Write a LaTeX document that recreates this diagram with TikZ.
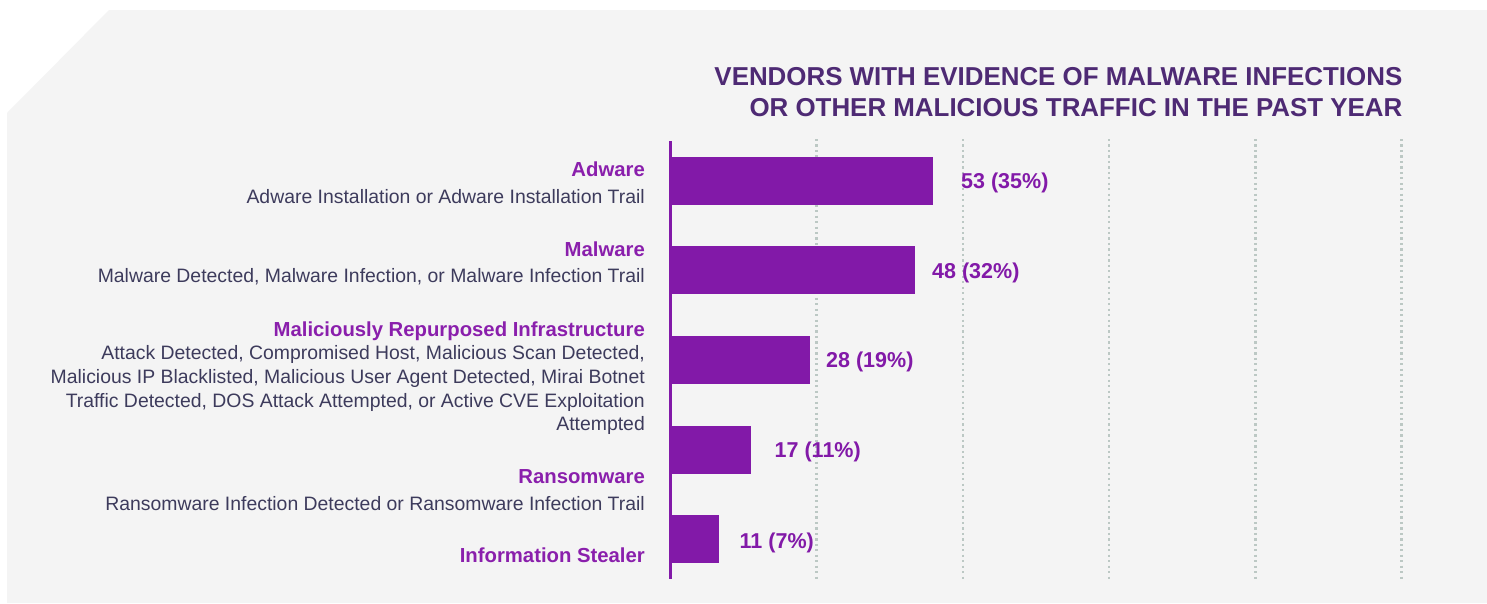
\documentclass[tikz,border=0pt]{standalone}
\usepackage{fontspec}
\setmainfont{Liberation Sans}
\definecolor{panel}{HTML}{F4F4F4}
\definecolor{barpurple}{HTML}{8219A8}
\definecolor{headpurple}{HTML}{8A1FAC}
\definecolor{titlepurple}{HTML}{4E2A74}
\definecolor{bodyink}{HTML}{3D3B5C}
\definecolor{gridgrey}{HTML}{BCC8C4}
\tikzset{
  charttitle/.style={anchor=base east, inner sep=0pt, align=right, text=titlepurple,
    font=\fontsize{25.9}{31.7}\selectfont\bfseries},
  cathead/.style={anchor=base east, inner sep=0pt, text=headpurple,
    font=\fontsize{20.3}{24}\selectfont\bfseries},
  catdesc/.style={anchor=base east, inner sep=0pt, align=right, text=bodyink,
    font=\fontsize{19.4}{23.6}\selectfont},
  valuelabel/.style={anchor=base west, inner sep=0pt, text=barpurple,
    font=\fontsize{21.5}{24}\selectfont\bfseries},
  bar/.style={fill=barpurple, draw=none},
  gridline/.style={draw=gridgrey, line width=2.2pt,
    dash pattern=on 2.2pt off 3.27pt},
}
\begin{document}
\begin{tikzpicture}[x=1pt, y=-1pt]
  \useasboundingbox (0,0) rectangle (1487,603);
  \fill[white] (0,0) rectangle (1487,603);
  % panel with a chamfered top-left corner
  \fill[panel] (109,10) -- (1487,10) -- (1487,603) -- (7,603) -- (7,113) -- cycle;

  % title (a multi-line node sits on the baseline of its last line)
  \node[charttitle] (title) at (1402.5,116.7) {VENDORS WITH EVIDENCE OF MALWARE INFECTIONS\\OR OTHER MALICIOUS TRAFFIC IN THE PAST YEAR};

  % dotted value gridlines
  \foreach \gx [count=\i] in {816.5,963,1109,1255.5,1401.5} {
    \coordinate (g\i top) at (\gx,139);
    \coordinate (g\i bot) at (\gx,579);
    \draw[gridline] (g\i top) -- (g\i bot);
  }

  % bars
  \fill[bar] (670,157) rectangle (933,205);
  \fill[bar] (670,246) rectangle (915,293.7);
  \fill[bar] (670,336) rectangle (810,383.7);
  \fill[bar] (670,426) rectangle (751,473.7);
  \fill[bar] (670,515) rectangle (719,562.7);

  % category axis
  \coordinate (axtop) at (670.5,141);
  \coordinate (axbot) at (670.5,579);
  \draw[barpurple, line width=3pt] (axtop) -- (axbot);

  % value labels
  \node[valuelabel] (v1) at (961,188.3) {53 (35\%)};
  \node[valuelabel] (v2) at (932,278.3) {48 (32\%)};
  \node[valuelabel] (v3) at (826,367.3) {28 (19\%)};
  \node[valuelabel] (v4) at (774.5,457.5) {17 (11\%)};
  \node[valuelabel] (v5) at (739.5,548.5) {11 (7\%)};

  % category labels
  \node[cathead] (h1) at (645,176) {Adware};
  \node[catdesc] (d1) at (645,203.3) {Adware Installation or Adware Installation Trail};
  \node[cathead] (h2) at (645,256) {Malware};
  \node[catdesc] (d2) at (645,282.7) {Malware Detected, Malware Infection, or Malware Infection Trail};
  \node[cathead] (h3) at (645,336) {Maliciously Repurposed Infrastructure};
  \node[catdesc] (d3) at (645,430.7) {Attack Detected, Compromised Host, Malicious Scan Detected,\\Malicious IP Blacklisted, Malicious User Agent Detected, Mirai Botnet\\Traffic Detected, DOS Attack Attempted, or Active CVE Exploitation\\Attempted};
  \node[cathead] (h4) at (645,483.3) {Ransomware};
  \node[catdesc] (d4) at (645,510) {Ransomware Infection Detected or Ransomware Infection Trail};
  \node[cathead] (h5) at (645,562.7) {Information Stealer};
\end{tikzpicture}
\end{document}
